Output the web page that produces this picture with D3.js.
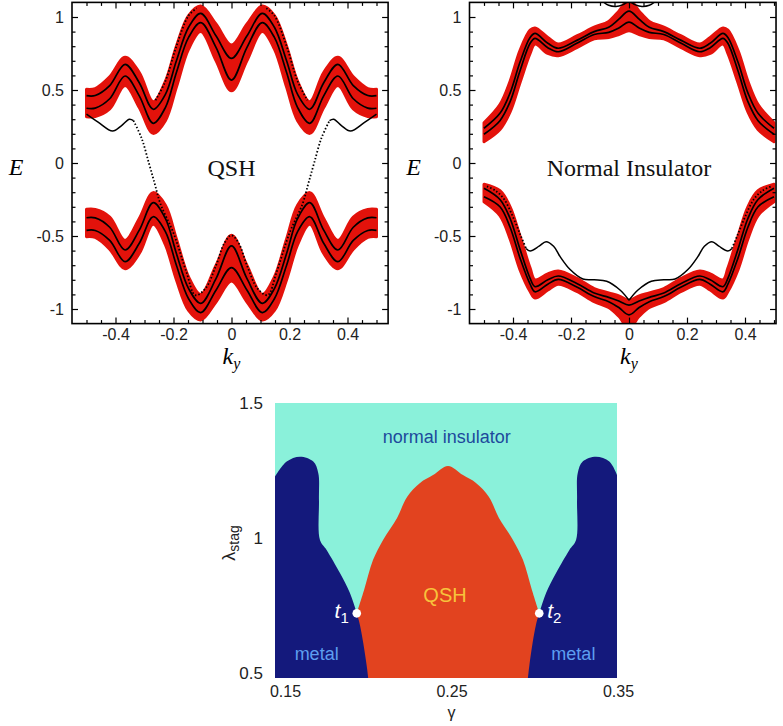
<!DOCTYPE html>
<html>
<head>
<meta charset="utf-8">
<script src="https://cdn.jsdelivr.net/npm/d3@7.9.0/dist/d3.min.js"></script>
<style>
  body { margin: 0; background: #fff; }
  svg { display: block; }
</style>
</head>
<body>
<svg id="fig" width="783" height="726"></svg>
<script>
// ---- tick labels ----
const kTicks = [-0.4, -0.2, 0, 0.2, 0.4];
const eTicks = [-1, -0.5, 0, 0.5, 1];
const gammaTicks = [0.15, 0.25, 0.35];
const lambdaTicks = [0.5, 1, 1.5];

// ---- QSH panel: bulk bands (E vs k_y) ----
const qshK     = [-0.5,-0.47,-0.42,-0.367,-0.318,-0.27,-0.228,-0.19,-0.148,-0.106,-0.053,0,0.053,0.106,0.148,0.19,0.228,0.27,0.318,0.367,0.42,0.47,0.5];
const qshUpL1  = [0.461,0.462,0.53,0.676,0.55,0.368,0.47,0.70,0.93,1.025,0.87,0.717,0.87,1.025,0.93,0.70,0.47,0.368,0.55,0.676,0.53,0.462,0.461];
const qshUpL2  = [0.375,0.376,0.44,0.596,0.46,0.272,0.38,0.62,0.86,0.961,0.79,0.568,0.79,0.961,0.86,0.62,0.38,0.272,0.46,0.596,0.44,0.376,0.375];
const qshUpTop = [0.505,0.51,0.59,0.724,0.62,0.42,0.56,0.80,1.01,1.075,0.95,0.808,0.95,1.075,1.01,0.80,0.56,0.42,0.62,0.724,0.59,0.51,0.505];
const qshUpBot = [0.317,0.318,0.37,0.53,0.38,0.203,0.29,0.52,0.78,0.90,0.70,0.495,0.70,0.90,0.78,0.52,0.29,0.203,0.38,0.53,0.37,0.318,0.317];
const qshLoL1  = [-0.375,-0.376,-0.44,-0.596,-0.46,-0.272,-0.38,-0.62,-0.86,-0.961,-0.79,-0.568,-0.79,-0.961,-0.86,-0.62,-0.38,-0.272,-0.46,-0.596,-0.44,-0.376,-0.375];
const qshLoL2  = [-0.461,-0.462,-0.53,-0.676,-0.55,-0.368,-0.47,-0.70,-0.93,-1.025,-0.87,-0.717,-0.87,-1.025,-0.93,-0.70,-0.47,-0.368,-0.55,-0.676,-0.53,-0.462,-0.461];
const qshLoTop = [-0.317,-0.318,-0.37,-0.53,-0.38,-0.203,-0.29,-0.52,-0.78,-0.90,-0.70,-0.495,-0.70,-0.90,-0.78,-0.52,-0.29,-0.203,-0.38,-0.53,-0.37,-0.318,-0.317];
const qshLoBot = [-0.505,-0.51,-0.59,-0.724,-0.62,-0.42,-0.56,-0.80,-1.01,-1.075,-0.95,-0.808,-0.95,-1.075,-1.01,-0.80,-0.56,-0.42,-0.62,-0.724,-0.59,-0.51,-0.505];

// QSH edge states
const qshEdgeLK = [-0.5,-0.46,-0.41,-0.38,-0.352,-0.338];
const qshEdgeLE = [0.335,0.28,0.219,0.255,0.30,0.29];
const qshEdgeMK = [-0.338,-0.31,-0.285,-0.265,-0.245,-0.2,-0.155,-0.125,-0.09,-0.053,-0.025,0,0.025,0.053,0.09,0.125,0.155,0.2,0.245,0.265,0.285,0.31,0.338];
const qshEdgeME = [0.29,0.17,0.0,-0.14,-0.28,-0.48,-0.75,-0.905,-0.86,-0.70,-0.55,-0.495,-0.55,-0.70,-0.86,-0.905,-0.75,-0.48,-0.28,-0.14,0.0,0.17,0.29];
const qshEdgeRK = [0.338,0.352,0.38,0.41,0.46,0.5];
const qshEdgeRE = [0.29,0.30,0.255,0.219,0.28,0.335];
const qshRiseLK = [-0.262,-0.228,-0.19,-0.148,-0.12];
const qshRiseLE = [0.43,0.56,0.80,1.01,1.06];
const qshRiseRK = [0.12,0.148,0.19,0.228,0.262];
const qshRiseRE = [1.06,1.01,0.80,0.56,0.43];

// ---- Normal insulator panel ----
const niK     = [-0.5,-0.445,-0.41,-0.376,-0.341,-0.324,-0.28,-0.244,-0.18,-0.12,-0.07,-0.035,0,0.035,0.07,0.12,0.18,0.244,0.28,0.324,0.341,0.376,0.41,0.445,0.5];
const niUpL1  = [0.238,0.34,0.48,0.69,0.86,0.888,0.82,0.786,0.84,0.90,0.93,0.985,1.04,0.985,0.93,0.90,0.84,0.786,0.82,0.888,0.86,0.69,0.48,0.34,0.238];
const niUpL2  = [0.197,0.29,0.42,0.63,0.82,0.854,0.79,0.762,0.82,0.88,0.895,0.925,0.965,0.925,0.895,0.88,0.82,0.762,0.79,0.854,0.82,0.63,0.42,0.29,0.197];
const niUpTop = [0.276,0.40,0.56,0.77,0.91,0.925,0.86,0.815,0.87,0.93,0.97,1.04,1.12,1.04,0.97,0.93,0.87,0.815,0.86,0.925,0.91,0.77,0.56,0.40,0.276];
const niUpBot = [0.146,0.23,0.35,0.55,0.75,0.815,0.75,0.735,0.79,0.85,0.86,0.88,0.905,0.88,0.86,0.85,0.79,0.735,0.75,0.815,0.75,0.55,0.35,0.23,0.146];
const niLoL1  = [-0.173,-0.25,-0.38,-0.59,-0.79,-0.847,-0.80,-0.774,-0.825,-0.89,-0.92,-0.945,-0.973,-0.945,-0.92,-0.89,-0.825,-0.774,-0.80,-0.847,-0.79,-0.59,-0.38,-0.25,-0.173];
const niLoL2  = [-0.231,-0.30,-0.44,-0.65,-0.83,-0.882,-0.83,-0.797,-0.85,-0.915,-0.95,-0.99,-1.04,-0.99,-0.95,-0.915,-0.85,-0.797,-0.83,-0.882,-0.83,-0.65,-0.44,-0.30,-0.231];
const niLoTop = [-0.145,-0.19,-0.30,-0.50,-0.72,-0.80,-0.76,-0.74,-0.79,-0.86,-0.89,-0.91,-0.94,-0.91,-0.89,-0.86,-0.79,-0.74,-0.76,-0.80,-0.72,-0.50,-0.30,-0.19,-0.145];
const niLoBot = [-0.265,-0.36,-0.52,-0.73,-0.88,-0.925,-0.87,-0.83,-0.88,-0.95,-0.99,-1.05,-1.13,-1.05,-0.99,-0.95,-0.88,-0.83,-0.87,-0.925,-0.88,-0.73,-0.52,-0.36,-0.265];

// NI edge states
const niDotLK = [-0.49,-0.46,-0.43,-0.40,-0.375,-0.355];
const niDotLE = [-0.16,-0.19,-0.25,-0.37,-0.49,-0.585];
const niDotRK = [0.355,0.375,0.40,0.43,0.46,0.49];
const niDotRE = [-0.585,-0.49,-0.37,-0.25,-0.19,-0.16];
const niEdgeLK = [-0.355,-0.341,-0.31,-0.286,-0.26,-0.238,-0.203,-0.159,-0.12,-0.077,-0.031,0];
const niEdgeLE = [-0.585,-0.603,-0.57,-0.539,-0.57,-0.64,-0.73,-0.795,-0.80,-0.81,-0.87,-0.94];
const niEdgeRK = [0,0.031,0.077,0.12,0.159,0.203,0.238,0.26,0.286,0.31,0.341,0.355];
const niEdgeRE = [-0.94,-0.87,-0.81,-0.80,-0.795,-0.73,-0.64,-0.57,-0.539,-0.57,-0.603,-0.585];
const niArcK = [-0.09,-0.07,-0.045,-0.02,0,0.02,0.045,0.07,0.09];
const niArcE = [1.105,1.08,1.072,1.085,1.105,1.085,1.072,1.08,1.105];

// ---- phase diagram (gamma, lambda_stag) boundaries ----
const metalLeftG  = [0.144,0.151,0.159,0.167,0.170,0.1704,0.171,0.175,0.183,0.189,0.1931,0.195,0.197,0.199,0.200];
const metalLeftL  = [1.227,1.283,1.301,1.283,1.240,1.141,0.993,0.956,0.870,0.796,0.721,0.678,0.611,0.530,0.4815];
const metalRightG = [0.2959,0.2968,0.2987,0.3007,0.3027,0.3068,0.3128,0.3208,0.3248,0.3254,0.3258,0.3288,0.3368,0.3448,0.3494];
const metalRightL = [0.4815,0.530,0.611,0.678,0.721,0.796,0.870,0.956,0.993,1.141,1.240,1.283,1.301,1.283,1.233];
const qshTopG = [0.1931,0.1975,0.2029,0.2089,0.2173,0.2233,0.2311,0.2389,0.2479,0.2569,0.2647,0.2725,0.2785,0.2869,0.2929,0.2983,0.3027];
const qshTopL = [0.721,0.807,0.919,0.993,1.074,1.152,1.204,1.233,1.267,1.233,1.204,1.152,1.074,0.993,0.919,0.807,0.721];
const tPoints = [{name: '1', g: 0.1931, l: 0.721}, {name: '2', g: 0.3027, l: 0.721}];

const RED = '#e3120b';
const SANS = '"Liberation Sans", Arial, Helvetica, sans-serif';
const SERIF = '"Liberation Serif", "Times New Roman", serif';
const svg = d3.select('#fig');

const zip = (ks, es) => ks.map((k, i) => [k, es[i]]);

function sideAxis(g, axisFn, scale, values, size, tf, pos) {
  const a = axisFn(scale).tickValues(values).tickSizeInner(-size).tickSizeOuter(0)
    .tickPadding(axisFn === d3.axisLeft ? 8 : 5)
    .tickFormat(tf || (() => ''));
  const ag = g.append('g').attr('transform', pos).call(a);
  ag.select('.domain').remove();
  ag.selectAll('line').attr('stroke', '#000').attr('stroke-width', 1.2);
  ag.selectAll('text').attr('font-family', SANS).attr('font-size', 16).attr('fill', '#222');
}

function bandPanel(id, cx, kLo, kHi, title, bands, curves) {
  const x = d3.scaleLinear().domain([-0.5, 0.5]).range([cx - 145, cx + 145]);
  const y = d3.scaleLinear().domain([-1, 1]).range([309, 17]);
  const x0 = x(kLo), x1 = x(kHi), y0 = y(1.1), y1 = y(-1.1);
  const g = svg.append('g');

  g.append('clipPath').attr('id', id)
    .append('rect').attr('x', x0).attr('y', y0).attr('width', x1 - x0).attr('height', y1 - y0);
  const plot = g.append('g').attr('clip-path', `url(#${id})`);

  bands.forEach(b => {
    const rows = b.k.map((k, i) => ({k, top: b.top[i], bot: b.bot[i], l1: b.l1[i], l2: b.l2[i]}));
    plot.append('path').datum(rows)
      .attr('d', d3.area().x(d => x(d.k)).y0(d => y(d.bot)).y1(d => y(d.top)).curve(d3.curveCatmullRom))
      .attr('fill', RED).attr('stroke', RED).attr('stroke-width', 3).attr('stroke-linejoin', 'round');
    ['l1', 'l2'].forEach(key => {
      plot.append('path').datum(rows)
        .attr('d', d3.line().x(d => x(d.k)).y(d => y(d[key])).curve(d3.curveCatmullRom))
        .attr('fill', 'none').attr('stroke', '#000').attr('stroke-width', 1.7);
    });
  });

  const line = d3.line().x(d => x(d[0])).y(d => y(d[1])).curve(d3.curveCatmullRom);
  curves.forEach(c => {
    plot.append('path').datum(c.pts).attr('d', line)
      .attr('fill', 'none').attr('stroke', '#000')
      .attr('stroke-width', c.dotted ? 1.8 : 1.5)
      .attr('stroke-dasharray', c.dotted ? '1.5,2' : null);
  });

  // frame + inward ticks
  const minorK = d3.range(-0.55, 0.551, 0.05).map(v => +v.toFixed(2))
    .filter(v => v > kLo && v < kHi && !kTicks.includes(v));
  const minorE = d3.range(-1.1, 1.101, 0.1).map(v => +v.toFixed(2))
    .filter(v => v > -1.1 && v < 1.1 && !eTicks.includes(v));
  const fmt = d => String(d);
  sideAxis(g, d3.axisBottom, x, kTicks, 6, fmt, `translate(0,${y1})`);
  sideAxis(g, d3.axisBottom, x, minorK, 3.5, null, `translate(0,${y1})`);
  sideAxis(g, d3.axisTop, x, kTicks, 6, null, `translate(0,${y0})`);
  sideAxis(g, d3.axisTop, x, minorK, 3.5, null, `translate(0,${y0})`);
  sideAxis(g, d3.axisLeft, y, eTicks, 6, fmt, `translate(${x0},0)`);
  sideAxis(g, d3.axisLeft, y, minorE, 3.5, null, `translate(${x0},0)`);
  sideAxis(g, d3.axisRight, y, eTicks, 6, null, `translate(${x1},0)`);
  sideAxis(g, d3.axisRight, y, minorE, 3.5, null, `translate(${x1},0)`);
  g.append('rect').attr('x', x0).attr('y', y0).attr('width', x1 - x0).attr('height', y1 - y0)
    .attr('fill', 'none').attr('stroke', '#000').attr('stroke-width', 1.6);

  g.append('text').attr('x', x(0)).attr('y', y(0) + 13).attr('text-anchor', 'middle')
    .attr('font-family', SERIF).attr('font-size', 24).attr('fill', '#111').text(title);
  g.append('text').attr('x', x0 - 56).attr('y', y(0) + 12).attr('text-anchor', 'middle')
    .attr('font-family', SERIF).attr('font-style', 'italic').attr('font-size', 24).text('E');
  const kl = g.append('text').attr('x', x(0)).attr('y', 364).attr('text-anchor', 'middle')
    .attr('font-family', SERIF).attr('font-style', 'italic').attr('font-size', 24);
  kl.append('tspan').text('k');
  kl.append('tspan').attr('font-size', 16).attr('dy', 5).text('y');
}

bandPanel('clipQsh', 231.5, -0.55, 0.54, 'QSH',
  [{k: qshK, l1: qshUpL1, l2: qshUpL2, top: qshUpTop, bot: qshUpBot},
   {k: qshK, l1: qshLoL1, l2: qshLoL2, top: qshLoTop, bot: qshLoBot}],
  [{pts: zip(qshEdgeLK, qshEdgeLE)},
   {pts: zip(qshEdgeMK, qshEdgeME), dotted: true},
   {pts: zip(qshEdgeRK, qshEdgeRE)},
   {pts: zip(qshRiseLK, qshRiseLE), dotted: true},
   {pts: zip(qshRiseRK, qshRiseRE), dotted: true}]);

bandPanel('clipNi', 629, -0.55, 0.507, 'Normal Insulator',
  [{k: niK, l1: niUpL1, l2: niUpL2, top: niUpTop, bot: niUpBot},
   {k: niK, l1: niLoL1, l2: niLoL2, top: niLoTop, bot: niLoBot}],
  [{pts: zip(niDotLK, niDotLE), dotted: true},
   {pts: zip(niDotRK, niDotRE), dotted: true},
   {pts: zip(niEdgeLK, niEdgeLE)},
   {pts: zip(niEdgeRK, niEdgeRE)},
   {pts: zip(niArcK, niArcE)}]);

// ---- phase diagram ----
(function phase() {
  const x = d3.scaleLinear().domain([0.15, 0.35]).range([285, 618]);
  const y = d3.scaleLinear().domain([0.5, 1.5]).range([673, 403]);
  const gMin = 0.144, gMax = 0.3494, lMin = 0.4815, lMax = 1.5;
  const g = svg.append('g');
  const line = d3.line().x(d => x(d[0])).y(d => y(d[1])).curve(d3.curveCatmullRom);

  g.append('rect').attr('x', x(gMin)).attr('y', y(lMax))
    .attr('width', x(gMax) - x(gMin)).attr('height', y(lMin) - y(lMax)).attr('fill', '#8af1da');

  const top = zip(qshTopG, qshTopL);
  g.append('path')
    .attr('d', line(top) + `L${x(qshTopG[qshTopG.length - 1])},${y(lMin)}L${x(qshTopG[0])},${y(lMin)}Z`)
    .attr('fill', '#e2431f');

  const left = zip(metalLeftG, metalLeftL);
  g.append('path').attr('d', line(left) + `L${x(gMin)},${y(lMin)}Z`).attr('fill', '#14197c');
  const right = zip(metalRightG, metalRightL);
  g.append('path').attr('d', line(right) + `L${x(gMax)},${y(lMin)}Z`).attr('fill', '#14197c');

  const label = (txt, gx, ly, col, size) => g.append('text').attr('x', x(gx)).attr('y', y(ly))
    .attr('text-anchor', 'middle').attr('font-family', SANS).attr('font-size', size).attr('fill', col).text(txt);
  label('normal insulator', 0.2471, 1.352, '#1d4a9c', 18);
  label('QSH', 0.2461, 0.764, '#f7c23c', 20);
  label('metal', 0.169, 0.548, '#5d9ef0', 18);
  label('metal', 0.3232, 0.548, '#5d9ef0', 18);

  tPoints.forEach(p => {
    g.append('circle').attr('cx', x(p.g)).attr('cy', y(p.l)).attr('r', 4.3).attr('fill', '#fff');
    const t = g.append('text')
      .attr('x', p.name === '1' ? x(p.g) - 8 : x(p.g) + 8).attr('y', y(p.l) + 5)
      .attr('text-anchor', p.name === '1' ? 'end' : 'start')
      .attr('font-family', SANS).attr('font-style', 'italic').attr('font-size', 21).attr('fill', '#fff');
    t.append('tspan').text('t');
    t.append('tspan').attr('font-size', 15).attr('font-style', 'normal').attr('dy', 5).text(p.name);
  });

  const ax = d3.axisBottom(x).tickValues(gammaTicks).tickSize(0).tickPadding(8).tickFormat(d => String(d));
  const axg = g.append('g').attr('transform', `translate(0,${y(lMin)})`).call(ax);
  axg.select('.domain').remove();
  axg.selectAll('text').attr('font-family', SANS).attr('font-size', 16).attr('fill', '#222');
  const ay = d3.axisLeft(y).tickValues(lambdaTicks).tickSize(0).tickPadding(12).tickFormat(d => String(d));
  const ayg = g.append('g').attr('transform', `translate(${x(gMin)},0)`).call(ay);
  ayg.select('.domain').remove();
  ayg.selectAll('text').attr('font-family', SANS).attr('font-size', 17).attr('fill', '#222');

  g.append('text').attr('x', x(0.25)).attr('y', 718).attr('text-anchor', 'middle')
    .attr('font-family', SANS).attr('font-size', 16).attr('fill', '#222').text('γ');
  const yl = g.append('text').attr('transform', `translate(235,${y(1) + 5}) rotate(-90)`)
    .attr('text-anchor', 'middle').attr('font-family', SANS).attr('font-size', 18).attr('fill', '#222');
  yl.append('tspan').text('λ');
  yl.append('tspan').attr('font-size', 14).attr('dy', 4).text('stag');
})();
</script>
</body>
</html>
